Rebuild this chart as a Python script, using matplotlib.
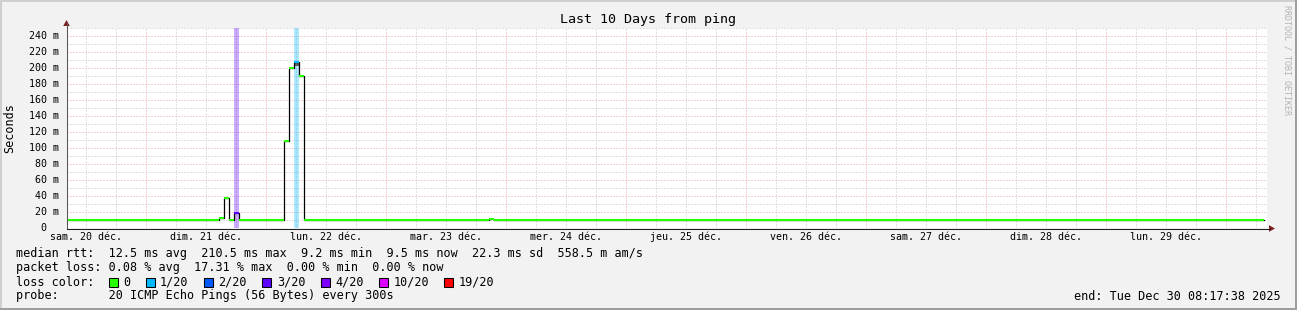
import matplotlib
matplotlib.use("Agg")
import matplotlib.pyplot as plt
import matplotlib.dates as mdates
from matplotlib.patches import Rectangle, Polygon
from matplotlib.lines import Line2D
from datetime import datetime, timedelta

# ---------------- data ----------------
title = "Last 10 Days from ping"
y_label = "Seconds"
graph_start = "2025-12-20 08:17:38"
graph_end = "2025-12-30 08:17:38"

# hourly median RTT, as change points (start of each constant stretch)
seg_start = ["2025-12-20 07:47", "2025-12-21 14:47", "2025-12-21 15:47",
             "2025-12-21 16:47", "2025-12-21 17:47", "2025-12-21 18:47",
             "2025-12-22 03:47", "2025-12-22 04:47", "2025-12-22 05:47",
             "2025-12-22 06:47", "2025-12-22 07:47", "2025-12-23 20:47",
             "2025-12-23 21:47"]
last_seg_end = "2025-12-30 07:47"
median_ms = [9.5, 12.5, 37.5, 9.5, 19.0, 9.5, 109.0, 200.0, 208.0, 190.0,
             9.5, 11.0, 9.5]
loss_of_20 = [0, 0, 0, 0, 3, 0, 0, 0, 1, 0, 0, 0, 0]
smoke_lo_ms = [9.5, 12.5, 37.5, 9.5, 19.0, 9.5, 109.0, 200.0, 203.0, 190.0,
               9.5, 11.0, 9.5]
smoke_hi_ms = [9.5, 12.5, 37.5, 9.5, 19.0, 9.5, 109.0, 200.0, 207.0, 190.0,
               9.5, 11.0, 9.5]

y_ticks_ms = [0, 20, 40, 60, 80, 100, 120, 140, 160, 180, 200, 220, 240]
y_tick_labels = ["0  ", "20 m", "40 m", "60 m", "80 m", "100 m", "120 m",
                 "140 m", "160 m", "180 m", "200 m", "220 m", "240 m"]
y_max_ms = 250

day_label_times = ["2025-12-20 12:00", "2025-12-21 12:00", "2025-12-22 12:00",
                   "2025-12-23 12:00", "2025-12-24 12:00", "2025-12-25 12:00",
                   "2025-12-26 12:00", "2025-12-27 12:00", "2025-12-28 12:00",
                   "2025-12-29 12:00"]
day_labels = ["sam. 20 déc.", "dim. 21 déc.", "lun. 22 déc.", "mar. 23 déc.",
              "mer. 24 déc.", "jeu. 25 déc.", "ven. 26 déc.", "sam. 27 déc.",
              "dim. 28 déc.", "lun. 29 déc."]

loss_levels = [0, 1, 2, 3, 4, 10, 19]
loss_level_labels = ["0", "1/20", "2/20", "3/20", "4/20", "10/20", "19/20"]
loss_colors = ["#26ff00", "#00b8ff", "#0059ff", "#5e00ff", "#7e00ff",
               "#dd00ff", "#ff0000"]

rtt_line = ("median rtt:  12.5 ms avg  210.5 ms max  9.2 ms min  "
            "9.5 ms now  22.3 ms sd  558.5 m am/s")
loss_line = "packet loss: 0.08 % avg  17.31 % max  0.00 % min  0.00 % now"
loss_color_caption = "loss color:"
probe_line = "probe:       20 ICMP Echo Pings (56 Bytes) every 300s"
end_line = "end: Tue Dec 30 08:17:38 2025"
watermark = "RRDTOOL / TOBI OETIKER"

# ---------------- helpers ----------------
W, H = 1297, 310
MONO = "DejaVu Sans Mono"


def dt(s):
    for fmt in ("%Y-%m-%d %H:%M:%S", "%Y-%m-%d %H:%M"):
        try:
            return datetime.strptime(s, fmt)
        except ValueError:
            pass
    raise ValueError(s)


def fx(x):
    return x / W


def fy(y):
    return 1 - y / H


def color_for_loss(n):
    col = loss_colors[0]
    for lvl, c in zip(loss_levels, loss_colors):
        if n >= lvl:
            col = c
    return col


fig = plt.figure(figsize=(W / 100, H / 100), dpi=100)
fig.patch.set_facecolor("#f2f2f2")

# 3D frame
fig.patches.append(Rectangle((0, fy(2)), 1, 2 / H, transform=fig.transFigure,
                             color="#cfcfcf", lw=0))
fig.patches.append(Rectangle((0, 0), 2 / W, 1, transform=fig.transFigure,
                             color="#cfcfcf", lw=0))
fig.patches.append(Rectangle((0, 0), 1, 2 / H, transform=fig.transFigure,
                             color="#9e9e9e", lw=0))
fig.patches.append(Rectangle((fx(W - 2), 0), 2 / W, 1, transform=fig.transFigure,
                             color="#9e9e9e", lw=0))

L, T, PW, PH = 67, 28, 1200, 200
ax = fig.add_axes([fx(L), fy(T + PH), PW / W, PH / H])
ax.set_facecolor("white")
for s in ax.spines.values():
    s.set_visible(False)

x0, x1 = mdates.date2num(dt(graph_start)), mdates.date2num(dt(graph_end))
ax.set_xlim(x0, x1)
ax.set_ylim(0, y_max_ms)

# grid
major_y = list(range(20, y_max_ms + 1, 20))
minor_y = list(range(10, y_max_ms + 1, 20))
grid_gray = "#c4c4c4"
grid_red = "#eea4a4"
dash = (0, (1, 2))
for v in minor_y:
    ax.axhline(v, color=grid_gray, lw=0.72, ls=dash, zorder=0.5)
for v in major_y:
    ax.axhline(v, color=grid_red, lw=0.72, ls=dash, zorder=0.6)
t = dt("2025-12-20 00:00")
while t <= dt(graph_end):
    xv = mdates.date2num(t)
    if x0 < xv < x1:
        if t.hour == 0:
            ax.axvline(xv, color=grid_red, lw=0.72, ls=dash, zorder=0.6)
        else:
            ax.axvline(xv, color=grid_gray, lw=0.72, ls=dash, zorder=0.5)
    t += timedelta(hours=6)

ax.set_xticks([])
ax.set_yticks([])

# data
starts = [mdates.date2num(dt(s)) for s in seg_start]
ends = starts[1:] + [mdates.date2num(dt(last_seg_end))]

for s, e, n in zip(starts, ends, loss_of_20):
    if n > 0:
        ax.axvspan(s, e, color=color_for_loss(n), alpha=0.32, lw=0, zorder=1)

for s, e, lo, hi in zip(starts, ends, smoke_lo_ms, smoke_hi_ms):
    if hi > lo:
        ax.fill_between([s, e], [lo, lo], [hi, hi], color="#5f5f5f", lw=0,
                        zorder=2)

ax.step(starts + [ends[-1]], median_ms + [median_ms[-1]], where="post",
        color="black", lw=0.9, zorder=3)
hl = ax.hlines(median_ms, starts, ends,
               colors=[color_for_loss(n) for n in loss_of_20],
               lw=1.5, zorder=4)
hl.set_capstyle("butt")

# y tick labels
for v, lab in zip(y_ticks_ms, y_tick_labels):
    ax.text(-8 / PW, v / y_max_ms, lab, transform=ax.transAxes, ha="right",
            va="center", family=MONO, fontsize=7.2)

# x day labels
for tl, lab in zip(day_label_times, day_labels):
    ax.text(mdates.date2num(dt(tl)), -9 / PH, lab,
            transform=ax.get_xaxis_transform(), ha="center", va="center",
            family=MONO, fontsize=7.2)

# axes lines and arrows
fig.lines.append(Line2D([fx(67), fx(1270)], [fy(228.5), fy(228.5)],
                        transform=fig.transFigure, color="#1f1f1f", lw=0.75))
fig.lines.append(Line2D([fx(66.5), fx(66.5)], [fy(228), fy(23)],
                        transform=fig.transFigure, color="#555555", lw=0.75))
arrow_col = "#801f1f"
fig.patches.append(Polygon([(fx(1275), fy(228.5)), (fx(1269), fy(225.2)),
                            (fx(1269), fy(231.8))], closed=True,
                           transform=fig.transFigure, color=arrow_col, lw=0))
fig.patches.append(Polygon([(fx(66.5), fy(20)), (fx(63.2), fy(26)),
                            (fx(69.8), fy(26))], closed=True,
                           transform=fig.transFigure, color=arrow_col, lw=0))

# title / labels
fig.text(fx(648.5), fy(19), title, ha="center", va="center", family=MONO,
         fontsize=9.6)
fig.text(fx(10), fy(128), y_label, ha="center", va="center", rotation=90,
         family=MONO, fontsize=8.5)
fig.text(fx(1287), fy(60), watermark, ha="center", va="center", rotation=-90,
         family=MONO, fontsize=6, color="#b4b4b4")

# legend block
LEG = 8.5
fig.text(fx(16), fy(254), rtt_line, ha="left", va="center", family=MONO,
         fontsize=LEG)
fig.text(fx(16), fy(268), loss_line, ha="left", va="center", family=MONO,
         fontsize=LEG)
fig.text(fx(16), fy(282), loss_color_caption, ha="left", va="center",
         family=MONO, fontsize=LEG)
fig.text(fx(16), fy(296), probe_line, ha="left", va="center", family=MONO,
         fontsize=LEG)
fig.text(fx(1281), fy(296), end_line, ha="right", va="center", family=MONO,
         fontsize=LEG)

char_w = 7.08
bx = 108.5
for lab, col in zip(loss_level_labels, loss_colors):
    fig.patches.append(Rectangle((fx(bx), fy(286.5)), 9 / W, 9 / H,
                                 transform=fig.transFigure, facecolor=col,
                                 edgecolor="black", lw=0.75))
    fig.text(fx(bx + 14.5), fy(282), lab, ha="left", va="center", family=MONO,
             fontsize=LEG)
    bx = bx + 14.5 + len(lab) * char_w + 15.5

fig.savefig("out.png", dpi=100, facecolor=fig.get_facecolor())
